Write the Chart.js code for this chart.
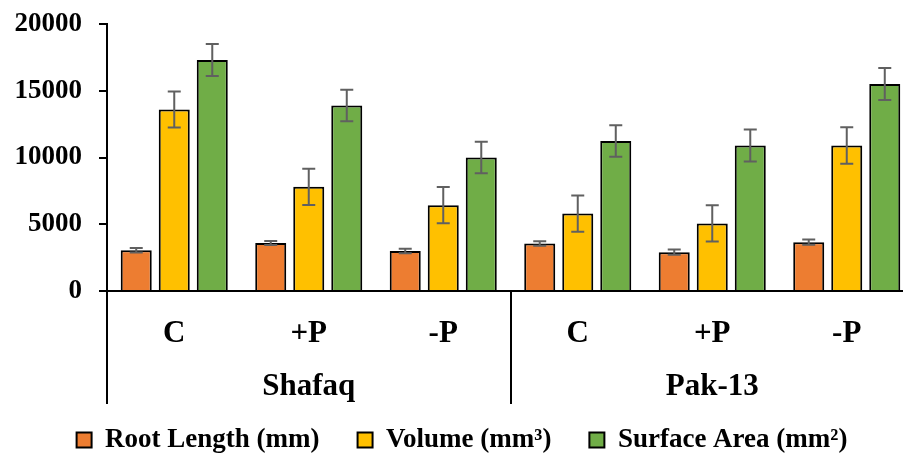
<!DOCTYPE html>
<html><head><meta charset="utf-8">
<script src="https://cdn.jsdelivr.net/npm/chart.js@4.4.0/dist/chart.umd.min.js"></script>
<style>
html,body{margin:0;padding:0;background:#fff;overflow:hidden;width:903px;height:457px}
#wrap{width:916px;height:457px;position:relative}
</style></head>
<body><div id="wrap"><canvas id="c" width="916" height="457"></canvas></div>
<script>
const categories = ['C', '+P', '-P', 'C', '+P', '-P'];
const groups = ['Shafaq', 'Pak-13'];
const groupSize = 3;
const seriesNames = ['Root Length (mm)', 'Volume (mm³)', 'Surface Area (mm²)'];
const rootLength = [3060, 3590, 2990, 3560, 2910, 3660];
const rootLengthErr = [170, 150, 170, 170, 190, 190];
const volume = [13600, 7800, 6430, 5800, 5060, 10900];
const volumeErr = [1350, 1360, 1360, 1360, 1360, 1370];
const surfaceArea = [17300, 13900, 10000, 11230, 10900, 15500];
const surfaceAreaErr = [1200, 1180, 1180, 1180, 1200, 1200];
const yTickStep = 5000;
const yMax = 20000;

const FONT = "'Liberation Serif', 'Times New Roman', serif";
const colors = ['#ED7D31', '#FFC000', '#70AD47'];

const errPlugin = {
  id: 'errbars',
  afterDatasetsDraw(chart) {
    const y = chart.scales.y, ctx = chart.ctx;
    ctx.save();
    ctx.strokeStyle = '#606060';
    ctx.lineWidth = 2;
    chart.data.datasets.forEach((ds, i) => {
      const meta = chart.getDatasetMeta(i);
      meta.data.forEach((bar, j) => {
        const v = ds.data[j], e = ds.errors[j];
        const yt = y.getPixelForValue(v + e), yb = y.getPixelForValue(v - e);
        const hw = 6.5;
        ctx.beginPath();
        ctx.moveTo(bar.x, yt); ctx.lineTo(bar.x, yb);
        ctx.moveTo(bar.x - hw, yt); ctx.lineTo(bar.x + hw, yt);
        ctx.moveTo(bar.x - hw, yb); ctx.lineTo(bar.x + hw, yb);
        ctx.stroke();
      });
    });
    ctx.restore();
  }
};

const groupPlugin = {
  id: 'groupLabels',
  afterDraw(chart) {
    const x = chart.scales.x, ctx = chart.ctx;
    const step = x.getPixelForValue(1) - x.getPixelForValue(0);
    const top = chart.chartArea.bottom;
    ctx.save();
    ctx.strokeStyle = '#000';
    ctx.lineWidth = 2;
    for (let g = 0; g <= groups.length; g++) {
      const px = Math.round(x.getPixelForValue(g * groupSize) - step / 2);
      ctx.beginPath(); ctx.moveTo(px, top); ctx.lineTo(px, top + 113); ctx.stroke();
    }
    ctx.font = 'bold 31px ' + FONT;
    ctx.fillStyle = '#000';
    ctx.textAlign = 'center';
    ctx.textBaseline = 'alphabetic';
    groups.forEach((g, i) => {
      const a = x.getPixelForValue(i * groupSize);
      const b = x.getPixelForValue(i * groupSize + groupSize - 1);
      ctx.fillText(g, (a + b) / 2, top + 104);
    });
    ctx.restore();
  }
};

const seriesData = [rootLength, volume, surfaceArea];
const seriesErr = [rootLengthErr, volumeErr, surfaceAreaErr];

new Chart(document.getElementById('c'), {
  type: 'bar',
  data: {
    labels: categories,
    datasets: seriesNames.map((name, i) => ({
      label: name,
      data: seriesData[i],
      errors: seriesErr[i],
      backgroundColor: colors[i],
      borderColor: '#000',
      borderWidth: 2,
      categoryPercentage: 0.848,
      barPercentage: 0.816
    }))
  },
  options: {
    responsive: false,
    animation: false,
    devicePixelRatio: 1,
    layout: { padding: { top: 24, left: 10, right: 2, bottom: -6.5 } },
    plugins: {
      tooltip: { enabled: false },
      legend: {
        position: 'bottom',
        labels: {
          color: '#000',
          font: { family: FONT, size: 27, weight: 'bold' },
          boxWidth: 15, boxHeight: 15, padding: 38
        }
      }
    },
    scales: {
      x: {
        grid: { display: false, drawTicks: false },
        border: { color: '#000', width: 2 },
        ticks: { color: '#000', font: { family: FONT, size: 31, weight: 'bold' }, padding: 24, maxRotation: 0, autoSkip: false },
        afterFit(s) { s.height = 97.5; }
      },
      y: {
        min: 0, max: yMax,
        ticks: { stepSize: yTickStep, color: '#000', font: { family: FONT, size: 27, weight: 'bold', lineHeight: 0.5 }, padding: 17, callback: v => String(v) },
        grid: { drawOnChartArea: false, drawTicks: true, tickLength: 8, color: '#000', lineWidth: 2 },
        border: { color: '#000', width: 2 },
        afterFit(s) { s.width = 97; }
      }
    }
  },
  plugins: [errPlugin, groupPlugin]
});
</script></body></html>
